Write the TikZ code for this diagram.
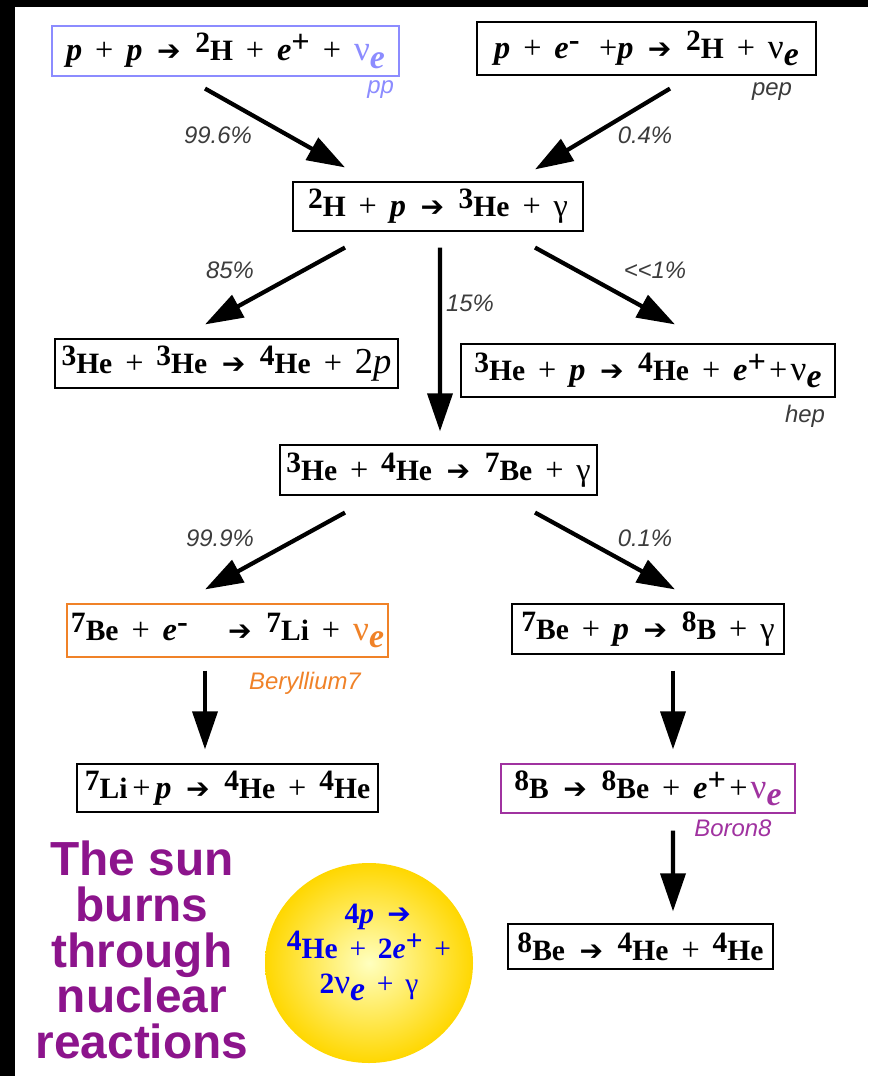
\documentclass[tikz,border=0pt]{standalone}
\usepackage{fontspec}
\setmainfont{Liberation Serif}
\newfontfamily\lsans{Liberation Sans}
\newfontfamily\arrfont{DejaVu Sans}
\usetikzlibrary{arrows.meta,calc}
\definecolor{ppblue}{RGB}{140,140,255}
\definecolor{beorange}{RGB}{240,130,40}
\definecolor{bpurple}{RGB}{160,50,160}
\definecolor{titlepurple}{RGB}{140,20,140}
\definecolor{sunblue}{RGB}{0,0,235}
\definecolor{labgray}{RGB}{60,60,60}
\newcommand\iso[2]{\raisebox{0.55ex}{\fontsize{21}{21}\selectfont #1}{\fontsize{21}{21}\selectfont #2}}
\newcommand\sps[1]{\raisebox{0.55ex}{#1}}
\newcommand\nue{{\mdseries\fontsize{25}{25}\selectfont ν}\raisebox{-0.5ex}{\fontsize{24}{24}\selectfont\textit{e}}}
\newcommand\pl{\hspace{0.4em}{\mdseries+}\hspace{0.4em}}
\newcommand\ra{\hspace{0.45em}{\arrfont\bfseries\fontsize{20}{20}\selectfont ➔}\hspace{0.45em}}
\tikzset{
  rxbox/.style 2 args={draw,line width=0.8pt,inner sep=0pt,
    minimum width=#1*0.025cm,minimum height=#2*0.025cm,
    font=\fontsize{23}{24}\selectfont\bfseries},
  flow/.style={line width=3pt,-{Triangle[length=0.95cm,width=0.62cm]}},
  pct/.style={font=\lsans\itshape\fontsize{17}{18}\selectfont,text=labgray},
  chain/.style={font=\lsans\itshape\fontsize{17}{18}\selectfont}
}
\begin{document}
\begin{tikzpicture}[x=0.025cm,y=-0.025cm]
  \useasboundingbox (0,0) rectangle (868,1076);
  \fill[white] (0,0) rectangle (868,1076);
  \fill[black] (0,0) rectangle (868,7);
  \fill[black] (0,0) rectangle (15,1076);

  \node[rxbox={347}{50},draw=ppblue] (pp) at (225.5,51)
    {\textit{p}\pl\textit{p}\ra\iso{2}{H}\pl\textit{e}\sps{+}\pl{\color{ppblue}\nue}};
  \node[rxbox={339}{53}] (pep) at (646.5,48.5)
    {\textit{p}\pl\textit{e}\sps{-}\hspace{0.6em}{\mdseries+}\textit{p}\ra\iso{2}{H}\pl\nue};
  \node[rxbox={290}{49}] (dH) at (438,206.5)
    {\iso{2}{H}\pl\textit{p}\ra\iso{3}{He}\pl{\mdseries γ}};
  \node[rxbox={343}{49}] (hehe) at (226.5,363.5)
    {\iso{3}{He}\pl\iso{3}{He}\ra\iso{4}{He}\pl{\mdseries\fontsize{26}{26}\selectfont 2\textit{p}}};
  \node[rxbox={374}{53}] (hep) at (648,370.5)
    {\iso{3}{He}\pl\textit{p}\ra\iso{4}{He}\pl\textit{e}\sps{+}\hspace{0.1em}{\mdseries+}\hspace{0.1em}\nue};
  \node[rxbox={317}{50}] (beform) at (438.5,470)
    {\iso{3}{He}\pl\iso{4}{He}\ra\iso{7}{Be}\pl{\mdseries γ}};
  \node[rxbox={321}{53},draw=beorange] (be) at (227.5,630.5)
    {\iso{7}{Be}\pl\textit{e}\sps{-}\hspace{0.8em}\ra\iso{7}{Li}\pl{\color{beorange}\nue}};
  \node[rxbox={272}{50}] (bform) at (648,629)
    {\iso{7}{Be}\pl\textit{p}\ra\iso{8}{B}\pl{\mdseries γ}};
  \node[rxbox={301}{48}] (li) at (227.5,788)
    {\iso{7}{Li}\hspace{0.15em}{\mdseries+}\hspace{0.15em}\textit{p}\ra\iso{4}{He}\pl\iso{4}{He}};
  \node[rxbox={294}{49},draw=bpurple] (b) at (648,788.5)
    {\iso{8}{B}\ra\iso{8}{Be}\pl\textit{e}\sps{+}\hspace{0.1em}{\mdseries+}\hspace{0.1em}{\color{bpurple}\nue}};
  \node[rxbox={265}{45}] (bee) at (640.5,946.5)
    {\iso{8}{Be}\ra\iso{4}{He}\pl\iso{4}{He}};

  \node[chain,text=ppblue,anchor=east] (pplab) at (399,90) {pp};
  \node[chain,text=labgray,anchor=east] (peplab) at (797,92) {pep};
  \node[chain,text=labgray,anchor=east] (heplab) at (830,416) {hep};
  \node[chain,text=beorange] (belab) at (305,683) {Beryllium7};
  \node[chain,text=bpurple] (blab) at (733,828) {Boron8};

  \draw[flow] ($(pp.south)+(-20.5,12)$) -- ($(dH.north)+(-93,-14)$);
  \draw[flow] ($(pep.south)+(23.5,13)$) -- ($(dH.north)+(97,-12)$);
  \draw[flow] ($(dH.south)+(-93,16)$) -- ($(hehe.north)+(-21.5,-14)$);
  \draw[flow] ($(dH.south)+(2,16)$) -- ($(beform.north)+(1.5,-13)$);
  \draw[flow] ($(dH.south)+(97,16)$) -- ($(hep.north)+(27,-19)$);
  \draw[flow] ($(beform.south)+(-93.5,17)$) -- ($(be.north)+(-22.5,-14)$);
  \draw[flow] ($(beform.south)+(96.5,17)$) -- ($(bform.north)+(27,-14)$);
  \draw[flow] ($(be.south)+(-22.5,13)$) -- ($(li.north)+(-22.5,-14)$);
  \draw[flow] ($(bform.south)+(25,16)$) -- ($(b.north)+(25,-14)$);
  \draw[flow] ($(b.south)+(25,17)$) -- ($(bee.north)+(32.5,-12)$);

  \node[pct] (p1) at (218,135) {99.6\%};
  \node[pct] (p2) at (645,135) {0.4\%};
  \node[pct] (p3) at (230,270) {85\%};
  \node[pct] (p4) at (470,303) {15\%};
  \node[pct] (p5) at (655,270) {<{}<1\%};
  \node[pct] (p6) at (220,538) {99.9\%};
  \node[pct] (p7) at (645,538) {0.1\%};

  \node[font=\lsans\bfseries\fontsize{34}{32.5}\selectfont,text=titlepurple,align=center]
    (title) at (142,950) {The sun\\burns\\through\\nuclear\\reactions};
  \shade[inner color=yellow!25!white,outer color={rgb,255:red,255;green,215;blue,0}]
    (369,963) ellipse [x radius=104,y radius=100];
  \node[font=\fontsize{21}{25}\selectfont\bfseries,text=sunblue,align=center] (sun) at (369,952)
    {\hspace{0.6em}4\textit{p}\ra\\ \iso{4}{He}\pl2\textit{e}\sps{+}\pl\\ 2\nue\pl{\mdseries γ}};
\end{tikzpicture}
\end{document}
